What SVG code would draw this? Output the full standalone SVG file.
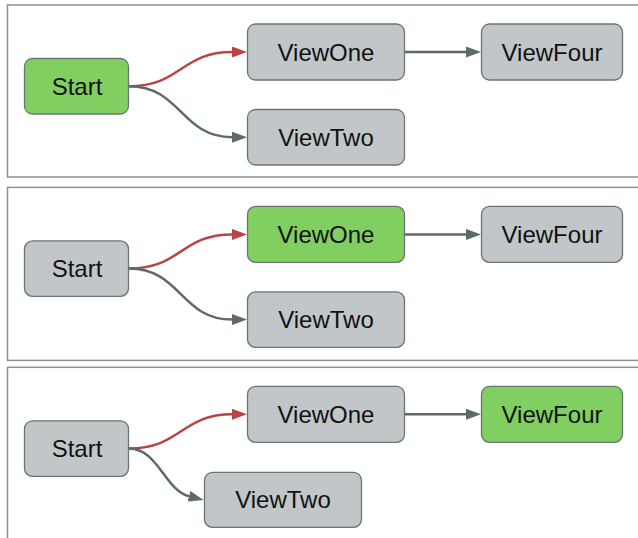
<svg xmlns="http://www.w3.org/2000/svg" width="638" height="538" viewBox="0 0 638 538">
  <style>
    .frame { fill: #ffffff; stroke: #8b9191; stroke-width: 1.5; }
    .node rect { fill: #c1c7c9; stroke: #6b7474; stroke-width: 1.3; }
    .node.active rect { fill: #80cf60; }
    .node text { font-family: "Liberation Sans", Arial, sans-serif; font-size: 24px; fill: #111111; text-anchor: middle; }
    .edge { fill: none; stroke-width: 2.5; }
    .edge.red { stroke: #b84444; marker-end: url(#arrow-red); }
    .edge.grey { stroke: #5e6a6a; marker-end: url(#arrow-grey); }
  </style>
  <defs>
    <marker id="arrow-red" viewBox="0 0 15 11" refX="0" refY="5.5" markerWidth="15" markerHeight="11" markerUnits="userSpaceOnUse" orient="auto">
      <path d="M0,0 L15,5.5 L0,11 Z" fill="#b84444"/>
    </marker>
    <marker id="arrow-grey" viewBox="0 0 15 11" refX="0" refY="5.5" markerWidth="15" markerHeight="11" markerUnits="userSpaceOnUse" orient="auto">
      <path d="M0,0 L15,5.5 L0,11 Z" fill="#5e6a6a"/>
    </marker>
  </defs>

  <!-- Step 1: Start active -->
  <g id="panel-1">
    <rect class="frame" x="7.5" y="5" width="640" height="172"/>
    <g id="connectors-1">
      <path class="edge red" d="M129,86.2 C181,86.2 181,52 232,52"/>
      <path class="edge grey" d="M129,86.2 C181,86.2 181,137.2 232,137.2"/>
      <path class="edge grey" d="M405,52 L466,52"/>
    </g>
    <g id="p1-start" class="node active">
      <rect x="24.5" y="58.5" width="104" height="55.5" rx="8"/>
      <text x="77" y="94.5">Start</text>
    </g>
    <g id="p1-viewone" class="node">
      <rect x="247.5" y="24" width="157" height="56" rx="8"/>
      <text x="326" y="60.5">ViewOne</text>
    </g>
    <g id="p1-viewfour" class="node">
      <rect x="481.5" y="24" width="141" height="56" rx="8"/>
      <text x="552" y="60.5">ViewFour</text>
    </g>
    <g id="p1-viewtwo" class="node">
      <rect x="247.5" y="109.5" width="157" height="55.5" rx="8"/>
      <text x="326" y="145.7">ViewTwo</text>
    </g>
  </g>

  <!-- Step 2: ViewOne active -->
  <g id="panel-2" transform="translate(0,182.4)">
    <rect class="frame" x="7.5" y="5" width="640" height="173"/>
    <g id="connectors-2">
      <path class="edge red" d="M129,86.2 C181,86.2 181,52 232,52"/>
      <path class="edge grey" d="M129,86.2 C181,86.2 181,137.2 232,137.2"/>
      <path class="edge grey" d="M405,52 L466,52"/>
    </g>
    <g id="p2-start" class="node">
      <rect x="24.5" y="58.5" width="104" height="55.5" rx="8"/>
      <text x="77" y="94.5">Start</text>
    </g>
    <g id="p2-viewone" class="node active">
      <rect x="247.5" y="24" width="157" height="56" rx="8"/>
      <text x="326" y="60.5">ViewOne</text>
    </g>
    <g id="p2-viewfour" class="node">
      <rect x="481.5" y="24" width="141" height="56" rx="8"/>
      <text x="552" y="60.5">ViewFour</text>
    </g>
    <g id="p2-viewtwo" class="node">
      <rect x="247.5" y="109.5" width="157" height="55.5" rx="8"/>
      <text x="326" y="145.7">ViewTwo</text>
    </g>
  </g>

  <!-- Step 3: ViewFour active -->
  <g id="panel-3" transform="translate(0,362.3)">
    <rect class="frame" x="7.5" y="5" width="640" height="200"/>
    <g id="connectors-3">
      <path class="edge red" d="M129,86.2 C181,86.2 181,52 232,52"/>
      <path class="edge grey" d="M129,86.2 C158,86.2 165,128 189,134"/>
      <path class="edge grey" d="M405,52 L466,52"/>
    </g>
    <g id="p3-start" class="node">
      <rect x="24.5" y="58.5" width="104" height="55.5" rx="8"/>
      <text x="77" y="94.5">Start</text>
    </g>
    <g id="p3-viewone" class="node">
      <rect x="247.5" y="24" width="157" height="56" rx="8"/>
      <text x="326" y="60.5">ViewOne</text>
    </g>
    <g id="p3-viewfour" class="node active">
      <rect x="481.5" y="24" width="141" height="56" rx="8"/>
      <text x="552" y="60.5">ViewFour</text>
    </g>
    <g id="p3-viewtwo" class="node">
      <rect x="204.5" y="110" width="157" height="55" rx="8"/>
      <text x="283" y="146">ViewTwo</text>
    </g>
  </g>
</svg>
